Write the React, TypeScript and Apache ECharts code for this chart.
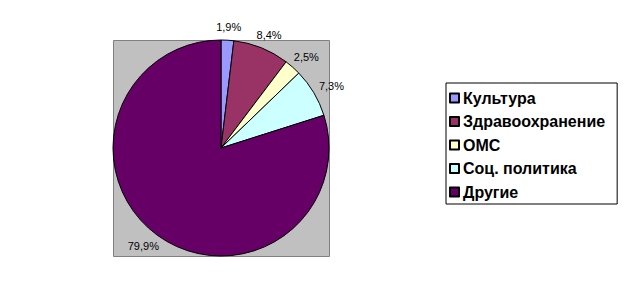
import React, { useEffect, useRef } from "react";
import * as echarts from "echarts";

const categories = ["Культура", "Здравоохранение", "ОМС", "Соц. политика", "Другие"];
const values = [1.9, 8.4, 2.5, 7.3, 79.9];
const colors = ["#9999FF", "#993366", "#FFFFCC", "#CCFFFF", "#660066"];

const CX = 221;
const CY = 148;
const R = 108;
const LABEL_GAP = 8;

export default function App() {
  const ref = useRef<HTMLDivElement>(null);
  useEffect(() => {
    document.body.style.margin = "0";
    const chart = echarts.init(ref.current!, null, { renderer: "svg" });
    const total = values.reduce((a, b) => a + b, 0);
    const midAngle = (i: number) => {
      let before = 0;
      for (let k = 0; k < i; k++) before += values[k];
      return ((before + values[i] / 2) / total) * Math.PI * 2;
    };
    chart.setOption({
      animation: false,
      backgroundColor: "#ffffff",
      graphic: [
        {
          type: "rect",
          z: 0,
          shape: { x: CX - R + 0.5, y: CY - R + 0.5, width: 2 * R, height: 2 * R },
          style: { fill: "#C0C0C0", stroke: "#808080", lineWidth: 1 },
        },
      ],
      legend: {
        orient: "vertical",
        left: 446,
        top: 83,
        itemWidth: 9,
        itemHeight: 9,
        itemGap: 7.5,
        padding: [7, 12, 4, 3],
        borderColor: "#000",
        borderWidth: 1,
        icon: "rect",
        textStyle: {
          fontFamily: "Liberation Sans, Arial",
          fontSize: 16,
          lineHeight: 16,
          fontWeight: "bold",
          color: "#000",
          padding: [0, 0, 0, -1],
        },
        data: categories,
      },
      series: [
        {
          type: "pie",
          center: [CX, CY],
          radius: R,
          startAngle: 90,
          clockwise: true,
          z: 2,
          itemStyle: { borderColor: "#000", borderWidth: 1 },
          label: {
            show: true,
            position: "outside",
            fontFamily: "Liberation Sans, Arial",
            fontSize: 11,
            color: "#000",
            formatter: (p: any) => String(p.value).replace(".", ",") + "%",
          },
          labelLine: { show: false },
          labelLayout: (p: any) => {
            const a = midAngle(p.dataIndex);
            const dx = Math.sin(a);
            const dy = -Math.cos(a);
            const w = p.labelRect.width;
            const h = p.labelRect.height;
            return {
              x: CX + dx * (R + LABEL_GAP) + dx * (w / 2),
              y: CY + dy * (R + LABEL_GAP) + dy * (h / 2),
              align: "center",
              verticalAlign: "middle",
            };
          },
          data: categories.map((name, i) => ({
            name,
            value: values[i],
            itemStyle: { color: colors[i] },
          })),
        },
      ],
    });
    return () => chart.dispose();
  }, []);
  return <div ref={ref} style={{ position: "absolute", left: 0, top: 0, width: 629, height: 295 }} />;
}
